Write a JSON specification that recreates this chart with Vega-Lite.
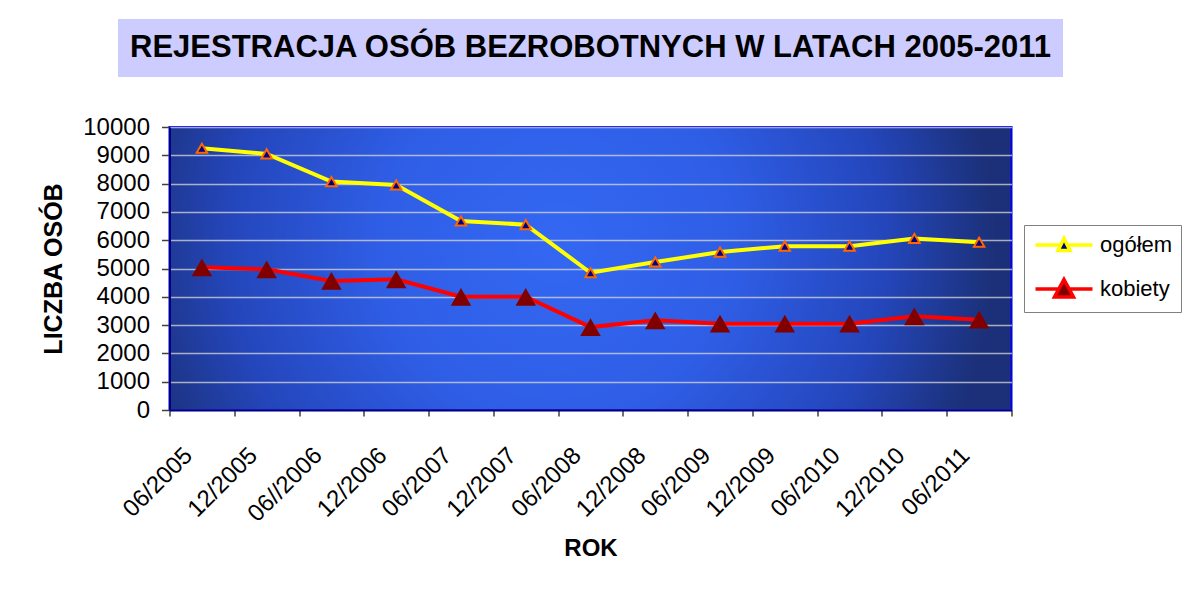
{
  "$schema": "https://vega.github.io/schema/vega-lite/v6.json",
  "background": "white",
  "padding": {"left": 40, "top": 19, "right": 5, "bottom": 5},
  "config": {"font": "Liberation Sans"},
  "bounds": "flush",
  "center": true,
  "spacing": 50,
  "vconcat": [
    {
      "width": 945,
      "height": 58,
      "view": {"fill": "#ccccff", "stroke": null},
      "data": {"values": [{"tytul": "REJESTRACJA OSÓB BEZROBOTNYCH W LATACH 2005-2011"}]},
      "mark": {"type": "text", "font": "Liberation Sans", "fontWeight": "bold", "fontSize": 31, "color": "black", "baseline": "middle", "align": "center"},
      "encoding": {"text": {"field": "tytul", "type": "nominal"}}
    },
    {
      "width": 842,
      "height": 283,
      "view": {
        "fill": {"gradient": "radial", "x1": 0.46, "y1": 0.47, "x2": 0.46, "y2": 0.47, "r1": 0, "r2": 0.52,
          "stops": [{"offset": 0, "color": "#3367f2"}, {"offset": 0.4, "color": "#2f5ee6"}, {"offset": 0.75, "color": "#2446bb"}, {"offset": 1, "color": "#1b3078"}]},
        "stroke": "#0000ee",
        "strokeWidth": 2
      },
      "data": {"values": [
        {"okres": "06/2005", "seria": "ogółem", "liczba": 9250},
        {"okres": "12/2005", "seria": "ogółem", "liczba": 9050},
        {"okres": "06//2006", "seria": "ogółem", "liczba": 8070},
        {"okres": "12/2006", "seria": "ogółem", "liczba": 7950},
        {"okres": "06/2007", "seria": "ogółem", "liczba": 6680},
        {"okres": "12/2007", "seria": "ogółem", "liczba": 6550},
        {"okres": "06/2008", "seria": "ogółem", "liczba": 4850},
        {"okres": "12/2008", "seria": "ogółem", "liczba": 5230},
        {"okres": "06/2009", "seria": "ogółem", "liczba": 5580},
        {"okres": "12/2009", "seria": "ogółem", "liczba": 5790},
        {"okres": "06/2010", "seria": "ogółem", "liczba": 5790},
        {"okres": "12/2010", "seria": "ogółem", "liczba": 6060},
        {"okres": "06/2011", "seria": "ogółem", "liczba": 5930},
        {"okres": "06/2005", "seria": "kobiety", "liczba": 5040},
        {"okres": "12/2005", "seria": "kobiety", "liczba": 4970},
        {"okres": "06//2006", "seria": "kobiety", "liczba": 4560},
        {"okres": "12/2006", "seria": "kobiety", "liczba": 4620},
        {"okres": "06/2007", "seria": "kobiety", "liczba": 4000},
        {"okres": "12/2007", "seria": "kobiety", "liczba": 4000},
        {"okres": "06/2008", "seria": "kobiety", "liczba": 2930},
        {"okres": "12/2008", "seria": "kobiety", "liczba": 3170},
        {"okres": "06/2009", "seria": "kobiety", "liczba": 3050},
        {"okres": "12/2009", "seria": "kobiety", "liczba": 3050},
        {"okres": "06/2010", "seria": "kobiety", "liczba": 3050},
        {"okres": "12/2010", "seria": "kobiety", "liczba": 3310},
        {"okres": "06/2011", "seria": "kobiety", "liczba": 3190}
      ]},
      "encoding": {
        "x": {
          "field": "okres", "type": "nominal", "sort": null,
          "scale": {"type": "band", "paddingInner": 0, "paddingOuter": 0},
          "axis": {
            "title": "ROK", "titleFontSize": 24, "titleFontWeight": "bold", "titleColor": "black", "titlePadding": 10,
            "labelAngle": -45, "labelFontSize": 24, "labelColor": "black", "labelPadding": 27, "labelOffset": -22,
            "tickBand": "extent", "tickSize": 6, "tickColor": "#404040", "tickWidth": 1.5,
            "domainColor": "#000080", "domainWidth": 2, "grid": false
          }
        },
        "y": {
          "field": "liczba", "type": "quantitative",
          "scale": {"domain": [0, 10000], "nice": false},
          "axis": {
            "title": "LICZBA OSÓB", "titleFontSize": 25, "titleFontWeight": "bold", "titleColor": "black", "titlePadding": 16,
            "labelFontSize": 24, "labelColor": "black", "labelPadding": 12, "format": "d",
            "tickCount": 10, "tickSize": 8, "tickColor": "#404040", "tickWidth": 1.5,
            "domainColor": "#000080", "domainWidth": 2,
            "grid": true, "gridColor": "#d8d8d8", "gridOpacity": 0.75, "gridWidth": 1.5
          }
        }
      },
      "layer": [
        {
          "mark": {"type": "line", "strokeWidth": 4},
          "encoding": {
            "color": {
              "field": "seria", "type": "nominal",
              "scale": {"domain": ["ogółem", "kobiety"], "range": ["#ffff00", "#ff0000"]},
              "legend": {
                "title": null, "orient": "none", "legendX": 906, "legendY": 206,
                "fillColor": "white", "strokeColor": "#808080", "padding": 8,
                "labelFontSize": 22, "labelColor": "black", "labelFont": "Liberation Sans",
                "symbolSize": 400, "symbolStrokeWidth": 4, "rowPadding": 14,
                "symbolOffset": 20, "labelOffset": 24,
                "encode": {
                  "symbols": {
                    "update": {
                      "shape": {"signal": "datum.value === 'ogółem' ? 'M-2.85,0H-0.35M0.35,0H2.85M0,-0.65L0.6,0.55L-0.6,0.55Z' : 'M-2.85,0H-0.5M0.5,0H2.85M0,-0.95L0.95,0.8L-0.95,0.8Z'"},
                      "fill": {"signal": "datum.value === 'ogółem' ? '#000080' : '#800000'"},
                      "strokeWidth": {"value": 3.5}
                    }
                  }
                }
              }
            }
          }
        },
        {
          "transform": [{"filter": "datum.seria === 'ogółem'"}],
          "mark": {"type": "point", "shape": "triangle-up", "filled": true, "fill": "#000080", "stroke": "#ff6600", "strokeWidth": 2, "size": 110, "opacity": 1}
        },
        {
          "transform": [{"filter": "datum.seria === 'kobiety'"}],
          "mark": {"type": "point", "shape": "triangle-up", "filled": true, "color": "#800000", "size": 420, "opacity": 1}
        }
      ]
    }
  ]
}
